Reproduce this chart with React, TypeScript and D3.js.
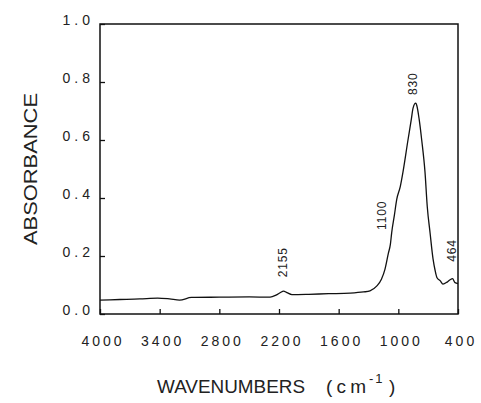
import React, { useEffect, useRef } from 'react';
import * as d3 from 'd3';

// spectrum (wavenumber in cm-1, absorbance)
const wavenumbers = [4000, 3800, 3600, 3420, 3300, 3200, 3080, 2800, 2500, 2290, 2230, 2185, 2155, 2120, 2070, 1900, 1700, 1486, 1350, 1285, 1218, 1170, 1134, 1100, 1080, 1067, 1040, 1016, 980, 953, 903, 870, 852, 825, 815, 790, 765, 732, 709, 681, 651, 630, 611, 580, 551, 510, 480, 455, 430, 400];
const absorbance = [0.048, 0.05, 0.052, 0.055, 0.052, 0.048, 0.057, 0.058, 0.059, 0.058, 0.065, 0.074, 0.079, 0.074, 0.067, 0.068, 0.07, 0.072, 0.076, 0.08, 0.096, 0.12, 0.155, 0.21, 0.24, 0.28, 0.34, 0.395, 0.44, 0.49, 0.6, 0.67, 0.71, 0.727, 0.72, 0.67, 0.6, 0.49, 0.37, 0.28, 0.19, 0.15, 0.125, 0.115, 0.103, 0.11, 0.118, 0.122, 0.108, 0.105];

const xTicks = [4000, 3400, 2800, 2200, 1600, 1000, 400];
const yTicks = [0, 0.2, 0.4, 0.6, 0.8, 1.0];

// peak annotations: text, and where the label's foot sits (wavenumber, absorbance)
const peakLabels = ['2155', '1100', '830', '464'];
const labelWn = [2120, 1124, 812, 420];
const labelAbs = [0.127, 0.29, 0.755, 0.18];

const W = 481;
const H = 403;
const margin = { top: 24, right: 23, bottom: 89, left: 100 };

export default function App() {
  const ref = useRef<SVGSVGElement>(null);

  useEffect(() => {
    const svg = d3.select(ref.current);
    svg.selectAll('*').remove();

    const x = d3.scaleLinear().domain([4000, 400]).range([margin.left, W - margin.right]);
    const y = d3.scaleLinear().domain([0, 1]).range([H - margin.bottom, margin.top]);
    const font = "'Liberation Sans', Arial, sans-serif";

    // frame
    svg.append('rect')
      .attr('x', x(4000)).attr('y', y(1))
      .attr('width', x(400) - x(4000)).attr('height', y(0) - y(1))
      .attr('fill', 'none').attr('stroke', '#111').attr('stroke-width', 1.5);

    // y axis, ticks point inward
    const yAxis = svg.append('g')
      .attr('transform', `translate(${x(4000)},0)`)
      .call(d3.axisRight(y).tickValues(yTicks).tickSize(5).tickFormat(() => ''));
    yAxis.select('.domain').remove();
    yAxis.selectAll('line').attr('stroke', '#111').attr('stroke-width', 1.3);

    svg.append('g').selectAll('text')
      .data(yTicks)
      .join('text')
      .attr('x', 94).attr('y', d => y(d) + 1)
      .attr('text-anchor', 'end')
      .attr('font-family', font).attr('font-size', 14)
      .attr('letter-spacing', 4)
      .attr('fill', '#222')
      .text(d => d3.format('.1f')(d));

    // x axis, ticks point up
    const xAxis = svg.append('g')
      .attr('transform', `translate(0,${y(0)})`)
      .call(d3.axisTop(x).tickValues(xTicks).tickSize(5).tickFormat(() => ''));
    xAxis.select('.domain').remove();
    xAxis.selectAll('line').attr('stroke', '#111').attr('stroke-width', 1.3);

    svg.append('g').selectAll('text')
      .data(xTicks)
      .join('text')
      .attr('x', d => x(d) + 3).attr('y', 346)
      .attr('text-anchor', 'middle')
      .attr('font-family', font).attr('font-size', 14)
      .attr('letter-spacing', 3)
      .attr('fill', '#222')
      .text(d => String(d));

    // spectrum
    const data = wavenumbers.map((w, i) => ({ w, a: absorbance[i] }));
    const line = d3.line<{ w: number; a: number }>()
      .x(d => x(d.w))
      .y(d => y(d.a))
      .curve(d3.curveMonotoneX);
    svg.append('path')
      .datum(data)
      .attr('fill', 'none')
      .attr('stroke', '#111')
      .attr('stroke-width', 1.3)
      .attr('d', line);

    // peak labels, rotated
    peakLabels.forEach((t, i) => {
      svg.append('text')
        .attr('transform', `translate(${x(labelWn[i])},${y(labelAbs[i])}) rotate(-90)`)
        .attr('font-family', font).attr('font-size', 12)
        .attr('letter-spacing', 0.8)
        .attr('fill', '#222')
        .text(t);
    });

    // axis titles
    svg.append('text')
      .attr('transform', `translate(37,169) rotate(-90)`)
      .attr('text-anchor', 'middle')
      .attr('font-family', font).attr('font-size', 19)
      .attr('textLength', 152).attr('lengthAdjust', 'spacingAndGlyphs')
      .attr('fill', '#222')
      .text('ABSORBANCE');

    const title = svg.append('text')
      .attr('y', 393)
      .attr('font-family', font).attr('font-size', 19)
      .attr('fill', '#222');
    title.append('tspan').attr('x', 157).attr('textLength', 148).attr('lengthAdjust', 'spacingAndGlyphs').text('WAVENUMBERS');
    title.append('tspan').attr('x', 326).attr('textLength', 40).attr('lengthAdjust', 'spacing').text('(cm');
    title.append('tspan').attr('x', 369).attr('dy', -10).attr('font-size', 13).attr('letter-spacing', 2).text('-1');
    title.append('tspan').attr('x', 389).attr('dy', 10).text(')');
  }, []);

  return (
    <svg ref={ref} width={W} height={H}
      style={{ position: 'absolute', left: 0, top: 0, background: '#fff' }} />
  );
}
